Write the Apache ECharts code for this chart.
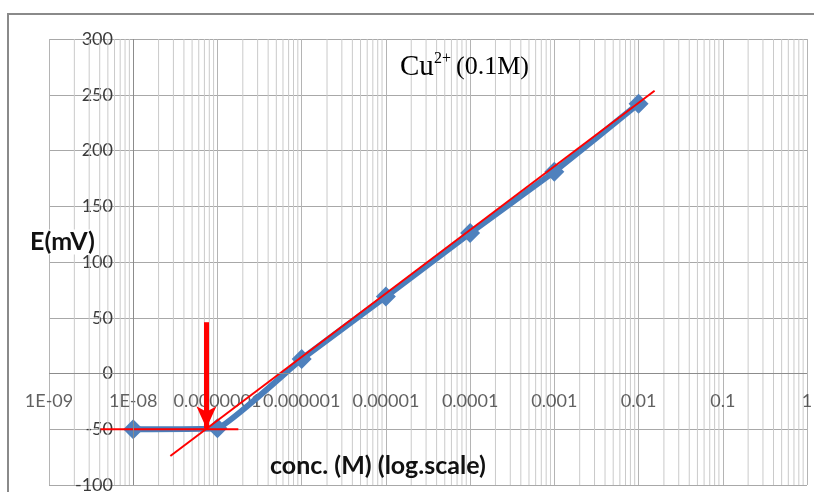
<!DOCTYPE html>
<html><head><meta charset="utf-8">
<script src="https://cdn.jsdelivr.net/npm/echarts@6/dist/echarts.min.js"></script>
<style>html,body{margin:0;padding:0;background:#fff}#c{width:814px;height:492px}</style>
</head><body><div id="c"></div>
<script>
// ---- data ----
const concentrations = [1e-8, 1e-7, 1e-6, 1e-5, 1e-4, 1e-3, 1e-2];
const potentials = [-50, -49, 13, 69, 126, 181, 242];
const xTickValues = [1e-9, 1e-8, 1e-7, 1e-6, 1e-5, 1e-4, 1e-3, 1e-2, 1e-1, 1];
const xTickLabels = ['1E-09','1E-08','0.0000001','0.000001','0.00001','0.0001','0.001','0.01','0.1','1'];
const yTicks = [-100, -50, 0, 50, 100, 150, 200, 250, 300];
const fitLineX = [2.76e-8, 1.55e-2];
const fitLineY = [-74, 253.6];
const baseLineX = [4.1e-9, 1.77e-7];
const baseLineY = [-50, -50];
const arrowX = [7.4e-8, 7.4e-8];
const arrowY = [46, -49];

// minor log gridlines (2..9 in each decade), drawn as broken vertical segments
const minorGrid = [];
for (let e = -9; e < 0; e++) for (let m = 2; m <= 9; m++) {
  const v = m * Math.pow(10, e);
  minorGrid.push([v, yTicks[0]], [v, yTicks[yTicks.length - 1]], [v, '-']);
}

const chart = echarts.init(document.getElementById('c'), null, {renderer: 'canvas'});
const FONT = 'Lato';
chart.setOption({
  animation: false,
  backgroundColor: '#fff',
  grid: {left: 49, right: 7, top: 39, bottom: 7, containLabel: false, outerBoundsMode: 'none'},
  xAxis: {
    type: 'log', logBase: 10, min: 1e-9, max: 1, splitNumber: 9,
    axisLine: {show: false}, axisTick: {show: false}, axisLabel: {show: false},
    splitLine: {show: true, lineStyle: {color: '#b4b4b4', width: 1}}
  },
  yAxis: {
    type: 'value', min: yTicks[0], max: yTicks[yTicks.length - 1], interval: yTicks[1] - yTicks[0],
    axisLine: {show: false, onZero: false}, axisTick: {show: false},
    axisLabel: {margin: -64, color: '#3a3a3a', fontFamily: FONT, fontSize: 18},
    splitLine: {show: true, lineStyle: {color: '#a8a8a8', width: 1}}
  },
  series: [
    {
      type: 'line', silent: true, z: 1, symbol: 'none', connectNulls: false,
      data: minorGrid,
      lineStyle: {color: '#cacaca', width: 1}
    },
    {
      type: 'line', data: [], silent: true, z: 1,
      markLine: {
        silent: true, symbol: 'none', label: {show: false},
        lineStyle: {color: '#8c8c8c', width: 1, type: 'solid'},
        emphasis: {disabled: true},
        data: [
          [{coord: [xTickValues[1], yTicks[0]]}, {coord: [xTickValues[1], yTicks[yTicks.length - 1]]}],
          [{coord: [xTickValues[0], 0]}, {coord: [xTickValues[xTickValues.length - 1], 0]}]
        ]
      }
    },
    {
      type: 'scatter', silent: true, z: 2, symbolSize: 0,
      data: xTickValues.map(v => [v, 0]),
      label: {
        show: true, position: 'bottom', distance: 19,
        color: '#3a3a3a', fontFamily: FONT, fontSize: 18,
        formatter: p => xTickLabels[p.dataIndex]
      }
    },
    {
      name: 'E', type: 'line', z: 3,
      data: concentrations.map((c, i) => [c, potentials[i]]),
      smooth: 0.1,
      symbol: 'diamond', symbolSize: 20,
      itemStyle: {color: '#4f81bd'},
      lineStyle: {color: '#4a7ebb', width: 6}
    },
    {
      type: 'line', z: 4, symbol: 'none',
      data: fitLineX.map((x, i) => [x, fitLineY[i]]),
      lineStyle: {color: '#ff0000', width: 2}
    },
    {
      type: 'line', z: 4, symbol: 'none',
      data: baseLineX.map((x, i) => [x, baseLineY[i]]),
      lineStyle: {color: '#ff0000', width: 2}
    },
    {
      type: 'line', data: [], z: 5,
      markLine: {
        silent: true, symbol: ['none', 'arrow'], symbolSize: [15, 22],
        label: {show: false},
        lineStyle: {color: '#ff0000', width: 5, type: 'solid'},
        itemStyle: {color: '#ff0000'},
        emphasis: {disabled: true},
        data: [[{coord: [arrowX[0], arrowY[0]]}, {coord: [arrowX[1], arrowY[1]]}]]
      }
    }
  ],
  graphic: [
    {type: 'rect', shape: {x: 8, y: 14, width: 900, height: 600}, style: {fill: 'none', stroke: '#8a8a8a', lineWidth: 2}, z: 100, silent: true},
    {type: 'text', x: 30, y: 242, z: 100, style: {text: 'E(mV)', font: 'bold 25px Lato', fill: '#111', backgroundColor: '#fff', textVerticalAlign: 'middle'}},
    {type: 'text', x: 270, y: 466, z: 100, style: {text: 'conc. (M) (log.scale)', font: 'bold 25px Lato', fill: '#111', textVerticalAlign: 'middle'}},
    {type: 'text', x: 400, y: 67, z: 100, style: {text: 'Cu', font: '29px "Liberation Serif"', fill: '#000', textVerticalAlign: 'middle'}},
    {type: 'text', x: 434, y: 59, z: 100, style: {text: '2+', font: '16px "Liberation Serif"', fill: '#000', textVerticalAlign: 'middle'}},
    {type: 'text', x: 456, y: 67, z: 100, style: {text: '(0.1M)', font: '26px "Liberation Serif"', fill: '#000', textVerticalAlign: 'middle'}}
  ]
});
</script></body></html>
